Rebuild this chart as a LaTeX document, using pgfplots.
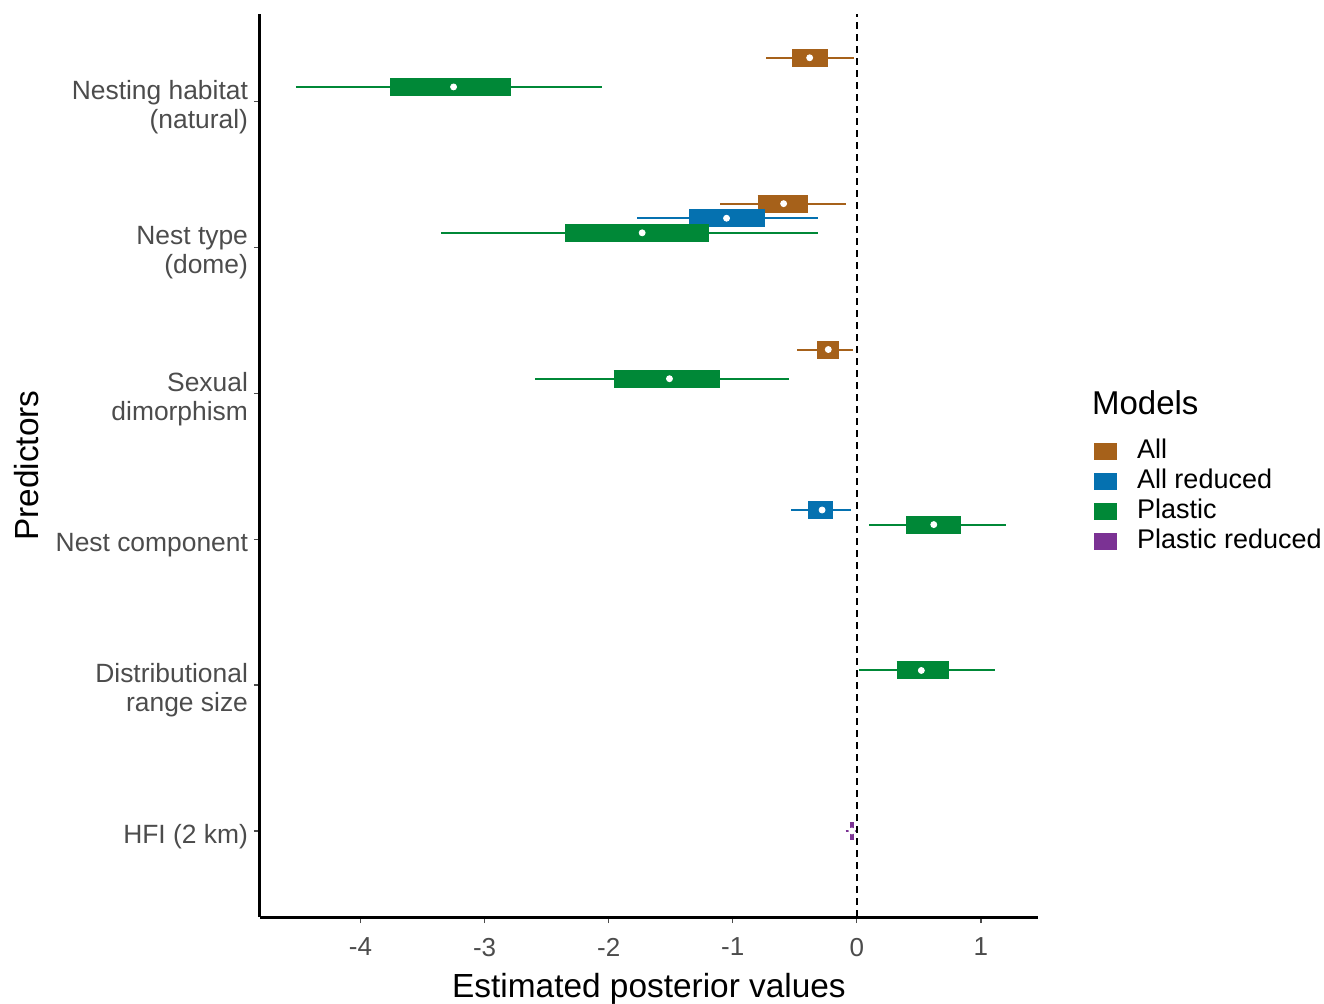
\documentclass[border=0pt]{standalone}
\usepackage{fontspec}
\setmainfont{Liberation Sans}
\usepackage{pgfplots}
\pgfplotsset{compat=1.18}
\definecolor{cAll}{HTML}{A6611A}
\definecolor{cAllR}{HTML}{0571B0}
\definecolor{cPl}{HTML}{008837}
\definecolor{cPlR}{HTML}{7B3294}
\pgfplotsset{
 whisk/.style={line width=1pt, forget plot},
 boxx/.style={line width=9pt, forget plot},
 med/.style={only marks, mark=*, mark size=1.5pt, mark options={fill=white, draw=white}, forget plot},
}
% interval: y lo q1 med q3 hi
\newcommand{\interval}[7]{%
 \addplot[whisk, #1] coordinates {(#3,#2) (#7,#2)};
 \addplot[boxx, #1] coordinates {(#4,#2) (#6,#2)};
 \addplot[med] coordinates {(#5,#2)};
}
\begin{document}
\begin{tikzpicture}
\begin{axis}[
 scale only axis, width=389pt, height=451.5pt,
 xmin=-4.81, xmax=1.46, ymin=0.41, ymax=6.6,
 clip=false,
 axis x line=bottom, axis y line=left,
 axis line style={-, line width=1.5pt, black},
 xtick={-4,-3,-2,-1,0,1}, ytick={1,2,3,4,5,6},
 yticklabels={HFI (2 km), {Distributional\\range size}, Nest component, {Sexual\\dimorphism}, {Nest type\\(dome)}, {Nesting habitat\\(natural)}},
 yticklabel style={align=right, font=\fontsize{13.2}{14.5}\selectfont, text=black!70, yshift=-2.8pt, xshift=0.5pt},
 xticklabel style={font=\fontsize{13}{15}\selectfont, text=black!70, yshift=-4pt},
 /pgf/number format/assume math mode=true,
 tick align=outside, major tick length=3pt,
 tick style={black!70, line width=0.6pt},
 xlabel={Estimated posterior values}, ylabel={Predictors},
 label style={font=\fontsize{16.7}{20}\selectfont},
 xlabel style={at={(axis description cs:0.5,0)}, anchor=center, yshift=-36pt},
 ylabel style={at={(axis description cs:0,0.5)}, anchor=center, yshift=116.5pt},
 legend style={at={(rel axis cs:1.0715,0.5325)}, anchor=north west, draw=none, fill=none,
   inner sep=0pt, row sep=0pt, column sep=5pt,
   font=\fontsize{13.5}{15}\selectfont,
   nodes={inner ysep=0pt, inner xsep=5pt, text height=11pt, text depth=4pt}},
 legend cell align=left,
 legend image code/.code={\fill (0pt,-4.25pt) rectangle (11.5pt,4.25pt);},
]
\addlegendimage{fill=cAll, draw=none}
\addlegendentry{All}
\addlegendimage{fill=cAllR, draw=none}
\addlegendentry{All reduced}
\addlegendimage{fill=cPl, draw=none}
\addlegendentry{Plastic}
\addlegendimage{fill=cPlR, draw=none}
\addlegendentry{Plastic reduced}

% All
\interval{cAll}{6.3}{-0.73}{-0.52}{-0.38}{-0.23}{-0.02}
\interval{cAll}{5.3}{-1.10}{-0.80}{-0.59}{-0.39}{-0.09}
\interval{cAll}{4.3}{-0.48}{-0.32}{-0.23}{-0.14}{-0.03}
% All reduced
\interval{cAllR}{5.2}{-1.77}{-1.35}{-1.05}{-0.74}{-0.31}
\interval{cAllR}{3.2}{-0.53}{-0.39}{-0.28}{-0.19}{-0.05}
% Plastic
\interval{cPl}{6.1}{-4.52}{-3.76}{-3.25}{-2.79}{-2.05}
\interval{cPl}{5.1}{-3.35}{-2.35}{-1.73}{-1.19}{-0.31}
\interval{cPl}{4.1}{-2.59}{-1.96}{-1.51}{-1.10}{-0.55}
\interval{cPl}{3.1}{0.10}{0.40}{0.62}{0.84}{1.20}
\interval{cPl}{2.1}{0.02}{0.32}{0.52}{0.74}{1.11}
% Plastic reduced
\interval{cPlR}{1.0}{-0.09}{-0.057}{-0.04}{-0.024}{-0.01}

\addplot[forget plot, black, line width=0.75pt, dash pattern=on 3.5pt off 2.5pt] coordinates {(0,0.41) (0,6.6)};

\node[anchor=west, font=\fontsize{16.5}{20}\selectfont, inner sep=0pt] at (rel axis cs:1.069,0.570) {Models};
\end{axis}
\pgfresetboundingbox
\path[use as bounding box] ([shift={(-130pt,-43pt)}]current axis.south west) rectangle ([shift={(532pt,458.5pt)}]current axis.south west);
\end{tikzpicture}
\end{document}
